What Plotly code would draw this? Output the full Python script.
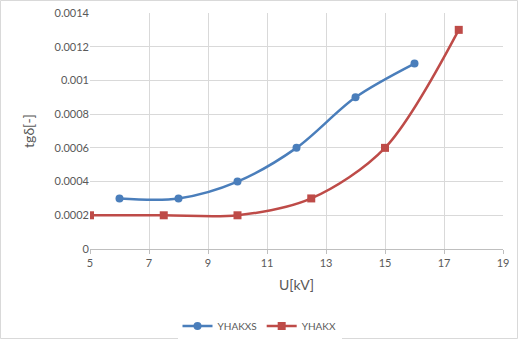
import plotly.graph_objects as go

u_blue = [6, 8, 10, 12, 14, 16]
tg_blue = [0.0003, 0.0003, 0.0004, 0.0006, 0.0009, 0.0011]
u_red = [5, 7.5, 10, 12.5, 15, 17.5]
tg_red = [0.0002, 0.0002, 0.0002, 0.0003, 0.0006, 0.0013]
y_ticks = [0, 0.0002, 0.0004, 0.0006, 0.0008, 0.001, 0.0012, 0.0014]
y_labels = ["0", "0.0002", "0.0004", "0.0006", "0.0008", "0.001", "0.0012", "0.0014"]
x_ticks = [5, 7, 9, 11, 13, 15, 17, 19]

W, H = 519, 340
ml, mr, mt, mb = 90, 16, 13, 91
pw, ph = W - ml - mr, H - mt - mb

fig = go.Figure()
fig.add_trace(go.Scatter(x=u_blue, y=tg_blue, name="YHAKXS", mode="lines+markers",
                         line=dict(color="#4A7EBB", width=2.5, shape="spline", smoothing=0.9),
                         marker=dict(symbol="circle", size=8, color="#4A7EBB")))
fig.add_trace(go.Scatter(x=u_red, y=tg_red, name="YHAKX", mode="lines+markers",
                         line=dict(color="#BE4B48", width=2.5, shape="spline", smoothing=0.9),
                         marker=dict(symbol="square", size=8, color="#BE4B48")))

font = "Lato, Carlito, sans-serif"
fig.update_layout(
    width=W, height=H,
    margin=dict(l=ml, r=mr, t=mt, b=mb, autoexpand=False),
    paper_bgcolor="white", plot_bgcolor="white",
    font=dict(family=font, color="#595959", size=11),
    showlegend=True,
    legend=dict(orientation="h", x=(259.5 - ml) / pw, xanchor="center",
                y=-(326 - 249) / ph, yanchor="middle",
                font=dict(size=10, color="#595959")),
    xaxis=dict(range=[5, 19], tickvals=x_ticks, showgrid=True, gridcolor="#D9D9D9", gridwidth=1,
               showline=True, linecolor="#BFBFBF", ticks="outside", ticklen=4, tickcolor="#BFBFBF",
               zeroline=False, tickfont=dict(size=11, color="#595959"), automargin=False,
               title=dict(text="U[kV]", font=dict(size=14, color="#595959"), standoff=11)),
    yaxis=dict(range=[0, 0.0014], tickvals=y_ticks, ticktext=y_labels, showgrid=True,
               gridcolor="#D9D9D9", gridwidth=1, showline=False, zeroline=False, automargin=False,
               tickfont=dict(size=11, color="#595959"), ticks="",
               title=dict(text="tgδ[-]", font=dict(size=14, color="#595959"), standoff=16)),
)
fig.add_shape(type="rect", xref="paper", yref="paper",
              x0=-(ml - 0.5) / pw, x1=1 + (mr - 1.5) / pw,
              y0=-(mb - 1.5) / ph, y1=1 + (mt - 0.5) / ph,
              line=dict(color="#D9D9D9", width=1), layer="below")
fig.write_html("out.html")
